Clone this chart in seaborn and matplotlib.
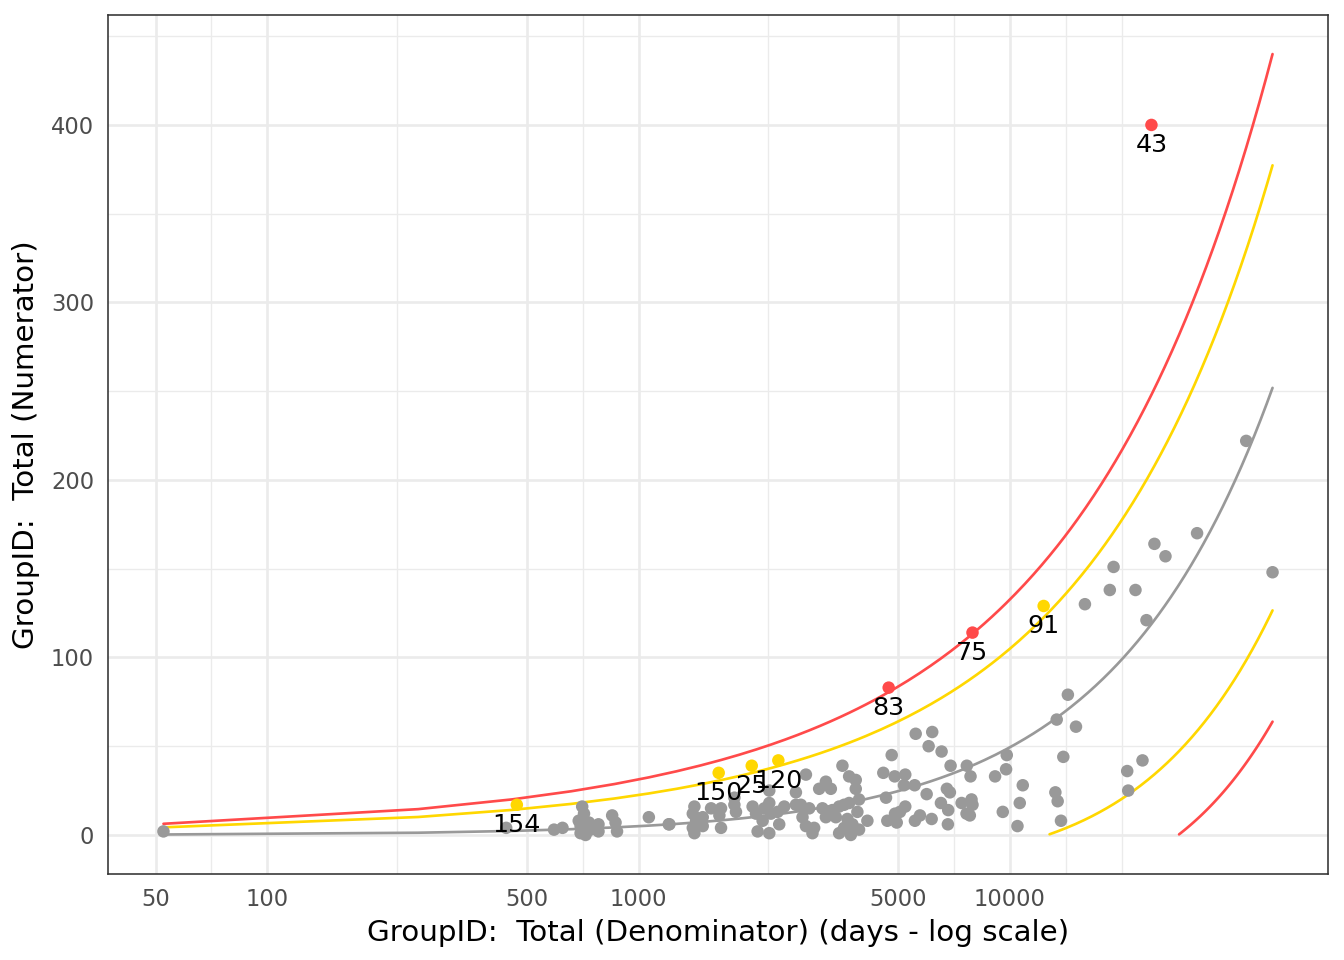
import numpy as np
import pandas as pd
import matplotlib
matplotlib.use("Agg")
import matplotlib.pyplot as plt
import seaborn as sns

# ---------------- data ----------------
# in-control groups: denominator (days) and numerator
den_gray = [52.5, 440,
            592, 624, 705, 713, 690, 698, 698, 720, 742, 735, 780, 780, 849, 867, 875, 1066, 1206,
            1211, 1414, 1400, 1429, 1400, 1414, 1489, 1489, 1568, 1668, 1651, 1668, 1812, 1830, 1812,
            2029, 2072, 2093, 2182, 2159, 2250, 2273, 2250, 2250, 2369, 2393, 2469, 2654, 2824,
            3542, 3692, 3847, 3196, 3066, 3296, 3847, 3926, 2654, 2737, 2882, 2765, 2824, 2972, 2941,
            3129, 3329, 3470, 3579, 3692, 3196, 3400, 3653, 3886, 3768, 3579, 3470, 3731, 3926, 4135,
            31960, 24530, 26270, 19040, 51040, 18600, 21810, 15940, 23350, 14340, 13380, 15080,
            5579, 6182, 6046, 6552, 4808, 9816, 13940, 22780, 20720, 6928, 7662, 9774, 7840, 9130,
            4564, 4898, 5230, 5188, 5544, 10840, 5972, 6770, 6898, 4641, 13270, 13460, 20850, 6525,
            6826, 7418, 7888, 7936, 10640, 9576, 5230, 5061, 4908, 5730, 5553, 4679, 4960, 6160,
            6813, 7648, 7806, 10490, 13740, 43350]
num_gray = [2, 4,
            3, 4, 16, 12, 8, 5, 1, 0, 3, 7, 6, 2, 11, 7, 2, 10, 6,
            6, 16, 12, 8, 4, 1, 10, 5, 15, 15, 11, 4, 17, 13, 21,
            16, 12, 2, 15, 8, 1, 12, 18, 25, 13, 6, 16, 17, 34,
            39, 33, 31, 30, 26, 26, 26, 20, 24, 17, 15, 10, 5, 4, 1,
            15, 14, 16, 17, 18, 10, 10, 9, 13, 6, 4, 1, 0, 3, 8,
            170, 164, 157, 151, 148, 138, 138, 130, 121, 79, 65, 61,
            57, 58, 50, 47, 45, 45, 44, 42, 36, 39, 39, 37, 33, 33,
            35, 33, 34, 28, 28, 28, 23, 26, 24, 21, 24, 19, 25, 18,
            14, 18, 20, 17, 18, 13, 16, 13, 12, 11, 8, 8, 7, 9,
            6, 12, 11, 5, 8, 222]

# flagged groups
out_ids = [43, 75, 83, 91, 154, 150, 25, 120]
out_den = [24080, 7936, 4719, 12340, 470, 1644, 2018, 2380]
out_num = [400, 114, 83, 129, 17, 35, 39, 42]
out_level = ["3SD", "3SD", "3SD", "2SD", "2SD", "2SD", "2SD", "2SD"]

# funnel model parameters
target_rate = 0.004935      # events per day
dispersion = 15.6           # overdispersion factor
n_grid = 253

x_breaks = [50, 100, 500, 1000, 5000, 10000]
x_minor = [70.71, 223.6, 707.1, 2236, 7071, 14142, 20000]
y_breaks = [0, 100, 200, 300, 400]
y_minor = [50, 150, 250, 350, 450]

col_gray = "#999999"
col_yel = "#FFD700"
col_red = "#FF4A4A"

# ---------------- funnel limits ----------------
all_den = np.array(den_gray + out_den, dtype=float)
grid = np.linspace(all_den.min(), all_den.max(), n_grid)
mu = target_rate * grid
sd = np.sqrt(dispersion * mu)
lines = {
    "target": mu,
    "up2": mu + 2 * sd,
    "up3": mu + 3 * sd,
    "lo2": np.where(mu - 2 * sd >= 0, mu - 2 * sd, np.nan),
    "lo3": np.where(mu - 3 * sd >= 0, mu - 3 * sd, np.nan),
}
line_df = pd.concat(
    [pd.DataFrame({"den": grid, "val": v, "line": k}) for k, v in lines.items()]
).dropna()
line_pal = {"target": col_gray, "up2": col_yel, "lo2": col_yel, "up3": col_red, "lo3": col_red}

pts = pd.DataFrame({
    "den": den_gray + out_den,
    "num": num_gray + out_num,
    "level": ["none"] * len(den_gray) + out_level,
})
pt_pal = {"none": col_gray, "2SD": col_yel, "3SD": col_red}

# ---------------- plot ----------------
sns.set_theme(style="white")
plt.rcParams["font.family"] = ["DejaVu Sans"]

fig = plt.figure(figsize=(7, 5), dpi=192)
ax = fig.add_axes([108 / 1344, 1 - 874 / 960, (1328 - 108) / 1344, (874 - 15) / 960])

sns.lineplot(data=line_df, x="den", y="val", hue="line", palette=line_pal,
             estimator=None, sort=False, legend=False, linewidth=1.0, ax=ax, zorder=3)
sns.scatterplot(data=pts, x="den", y="num", hue="level", palette=pt_pal,
                s=22, linewidth=0, legend=False, ax=ax, zorder=4)

for i, d, n in zip(out_ids, out_den, out_num):
    ax.annotate(str(i), (d, n), xytext=(0, -7.6), textcoords="offset points",
                ha="center", va="center", fontsize=9.5, color="black", zorder=5)

ax.set_xscale("log")
lx = np.log10([all_den.min(), all_den.max()])
ex = 0.05 * (lx[1] - lx[0])
ax.set_xlim(10 ** (lx[0] - ex), 10 ** (lx[1] + ex))
ymax = np.nanmax(lines["up3"])
ey = 0.05 * ymax
ax.set_ylim(-ey, ymax + ey)

ax.set_xticks(x_breaks)
ax.set_xticklabels([str(b) for b in x_breaks])
ax.set_xticks(x_minor, minor=True)
ax.set_xticklabels([""] * len(x_minor), minor=True)
ax.set_yticks(y_breaks)
ax.set_yticklabels([str(b) for b in y_breaks])
ax.set_yticks(y_minor, minor=True)

ax.grid(which="major", color="#EBEBEB", linewidth=1.0, zorder=0)
ax.grid(which="minor", color="#EBEBEB", linewidth=0.5, zorder=0)
ax.set_axisbelow(True)

ax.tick_params(which="major", length=3, width=0.6, color="#333333",
               labelsize=8.5, labelcolor="#4D4D4D", pad=2.2)
ax.tick_params(which="minor", length=0)
for s in ax.spines.values():
    s.set_color("#333333")
    s.set_linewidth(0.6)

ax.set_xlabel("GroupID:  Total (Denominator) (days - log scale)", fontsize=11,
              color="black", labelpad=3)
ax.set_ylabel("GroupID:  Total (Numerator)", fontsize=11, color="black", labelpad=4)

fig.savefig("out.png", dpi=192, facecolor="white")
